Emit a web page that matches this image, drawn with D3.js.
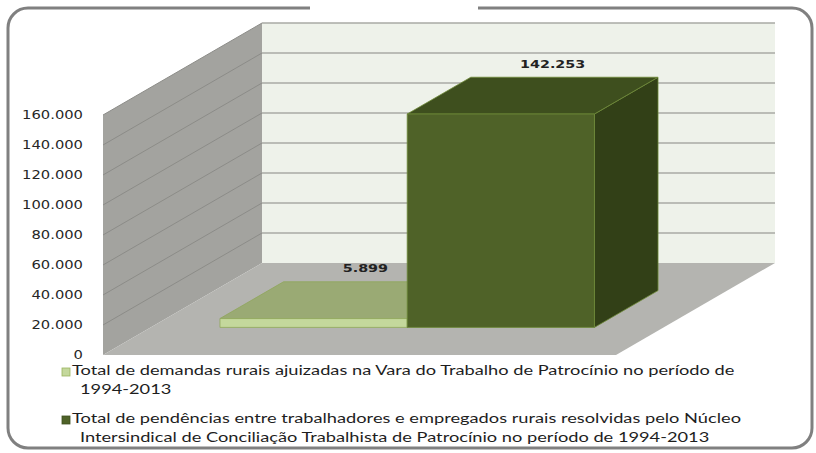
<!DOCTYPE html>
<html lang="pt">
<head>
<meta charset="utf-8" />
<script src="https://cdn.jsdelivr.net/npm/d3@7/dist/d3.min.js"></script>
<style>
  body { margin: 0; background: #fff; }
  .tick-label { font-family: "DejaVu Sans", sans-serif; font-size: 11.5px; fill: #262626; }
  .value-label { font-family: "DejaVu Sans", sans-serif; font-size: 11px; font-weight: bold; fill: #222; }
  .legend text { font-family: Lato, sans-serif; font-size: 13.5px; fill: #1e1e1e; }
</style>
</head>
<body>
<div id="container"></div>
<script>
const width = 816, height = 453;

// data
const series = ["demandas", "pendencias"];
const values = [5899, 142253];
const valueLabels = ["5.899", "142.253"];
const ticks = [0, 20000, 40000, 60000, 80000, 100000, 120000, 140000, 160000];
const tickLabels = ["0", "20.000", "40.000", "60.000", "80.000", "100.000", "120.000", "140.000", "160.000"];
const legendLines = [
  ["Total de demandas rurais ajuizadas na Vara do Trabalho de Patrocínio no período de", "1994-2013"],
  ["Total de pendências entre trabalhadores e empregados rurais resolvidas pelo Núcleo", "Intersindical de Conciliação Trabalhista de Patrocínio no período de 1994-2013"]
];
const faceColors = [
  { front: "#c4d89c", top: "#9aaa74", side: "#8a9a64", edge: "#8fa65a" },
  { front: "#4f6228", top: "#3e4f1e", side: "#324017", edge: "#6e8a38" }
];

const svg = d3.select("#container").append("svg").attr("width", width).attr("height", height);

// oblique projection: depth z in [0,1] shifts up-right
const DX = 159, DY = -92;
const P = (x, y, z) => [x + z * DX, y + z * DY];

const x = d3.scaleBand().domain(series).range([103, 616]).paddingInner(0).paddingOuter(0.37);
const y = d3.scaleLinear().domain([0, 160000]).range([355, 115]);
const x0 = 103, x1 = 616;
const zBar0 = 0.3, zBar1 = 0.7;

const poly = pts => "M" + pts.map(p => p.join(",")).join("L") + "Z";
const stretch = (sel, k) => sel.each(function () {
  const w = this.getComputedTextLength();
  d3.select(this).attr("textLength", w * k).attr("lengthAdjust", "spacingAndGlyphs");
});

// outer frame with gap at top
const r = 20, L = 8, T = 8, R = 812, B = 448;
const fp = d3.path();
fp.moveTo(478, T);
fp.lineTo(R - r, T); fp.arcTo(R, T, R, T + r, r);
fp.lineTo(R, B - r); fp.arcTo(R, B, R - r, B, r);
fp.lineTo(L + r, B); fp.arcTo(L, B, L, B - r, r);
fp.lineTo(L, T + r); fp.arcTo(L, T, L + r, T, r);
fp.lineTo(310, T);
svg.append("path").attr("d", fp.toString()).attr("fill", "none").attr("stroke", "#808080").attr("stroke-width", 3);

// walls and floor
const yTop = y(160000), yBot = y(0);
svg.append("path").attr("d", poly([P(x0, yBot, 0), P(x0, yTop, 0), P(x0, yTop, 1), P(x0, yBot, 1)]))
  .attr("fill", "#a3a39f");
svg.append("path").attr("d", poly([P(x0, yBot, 1), P(x0, yTop, 1), P(x1, yTop, 1), P(x1, yBot, 1)]))
  .attr("fill", "#eef2ea");
svg.append("path").attr("d", poly([P(x0, yBot, 0), P(x1, yBot, 0), P(x1, yBot, 1), P(x0, yBot, 1)]))
  .attr("fill", "#b4b4b0");

// gridlines
const grid = svg.append("g");
ticks.filter(t => t > 0).forEach(t => {
  const a = P(x0, y(t), 0), b = P(x0, y(t), 1), c = P(x1, y(t), 1);
  grid.append("path").attr("d", `M${a}L${b}`).attr("stroke", "#8c8c88").attr("stroke-width", 1).attr("fill", "none");
  grid.append("path").attr("d", `M${b}L${c}`).attr("stroke", "#a8aaa5").attr("stroke-width", 1.5).attr("fill", "none");
});

// y tick labels
svg.append("g").selectAll("text").data(ticks).join("text")
  .attr("class", "tick-label")
  .attr("x", 83).attr("y", d => y(d) + 0.5)
  .attr("text-anchor", "end").attr("dominant-baseline", "middle")
  .text((d, i) => tickLabels[i])
  .call(stretch, 1.28);

// bars
const bars = svg.append("g");
series.forEach((s, i) => {
  const c = faceColors[i];
  const xa = x(s), xb = x(s) + x.bandwidth();
  const yv = y(values[i]), yb = y(0);
  const g = bars.append("g").attr("stroke", c.edge).attr("stroke-width", 0.8).attr("stroke-linejoin", "round");
  g.append("path").attr("d", poly([P(xb, yb, zBar0), P(xb, yv, zBar0), P(xb, yv, zBar1), P(xb, yb, zBar1)])).attr("fill", c.side);
  g.append("path").attr("d", poly([P(xa, yv, zBar0), P(xb, yv, zBar0), P(xb, yv, zBar1), P(xa, yv, zBar1)])).attr("fill", c.top);
  g.append("path").attr("d", poly([P(xa, yb, zBar0), P(xa, yv, zBar0), P(xb, yv, zBar0), P(xb, yb, zBar0)])).attr("fill", c.front);
});

// value labels
svg.append("g").selectAll("text").data(series).join("text")
  .attr("class", "value-label")
  .attr("x", (d, i) => P(x(d) + x.bandwidth() / 2, y(values[i]), 0.5)[0] + 20)
  .attr("y", (d, i) => P(x(d) + x.bandwidth() / 2, y(values[i]), 0.5)[1] - 31)
  .attr("text-anchor", "middle").attr("dominant-baseline", "middle")
  .text((d, i) => valueLabels[i])
  .call(stretch, 1.3);

// legend
const legend = svg.append("g").attr("class", "legend");
const legendY = [372, 420];
legendLines.forEach((lines, i) => {
  const c = faceColors[i];
  legend.append("rect").attr("x", 62).attr("y", legendY[i] - 4).attr("width", 8).attr("height", 8)
    .attr("fill", c.front).attr("stroke", i === 0 ? "#9bb55f" : "#3e4f1e").attr("stroke-width", 0.8);
  lines.forEach((line, j) => {
    legend.append("text").attr("x", j === 0 ? 72 : 80).attr("y", legendY[i] + j * 19)
      .attr("dominant-baseline", "middle").text(line)
      .call(stretch, 1.35);
  });
});
</script>
</body>
</html>
